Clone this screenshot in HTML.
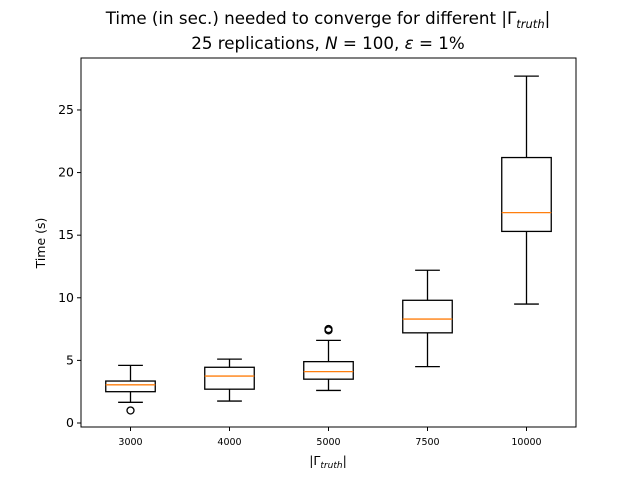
<!DOCTYPE html>
<html><head><meta charset="utf-8"><style>
body{margin:0;background:#fff;}
svg text{font-family:"DejaVu Sans","Liberation Sans",sans-serif;}
</style></head><body>
<svg id="chart" width="640" height="480" xmlns="http://www.w3.org/2000/svg">
<text x="328" y="24" font-size="16.7" text-anchor="middle">Time (in sec.) needed to converge for different |Γ<tspan font-style="italic" font-size="11.5" dy="4">truth</tspan><tspan dy="-4">|</tspan></text>
<text x="328" y="49" font-size="16.7" text-anchor="middle">25 replications, <tspan font-style="italic">N</tspan> = 100, <tspan font-style="italic">ε</tspan> = 1%</text>
<text transform="translate(45,243) rotate(-90)" font-size="12.5" text-anchor="middle">Time (s)</text>
<text x="328" y="465" font-size="12.5" text-anchor="middle">|Γ<tspan font-style="italic" font-size="9" dy="3">truth</tspan><tspan dy="-3">|</tspan></text>
<g id="plot"></g>
<rect x="81" y="58" width="495" height="369" fill="none" stroke="#000" stroke-width="1"/>
</svg>
<script>
const categories=["3000","4000","5000","7500","10000"];
const whiskerLow=[1.65,1.75,2.6,4.5,9.5];
const q1=[2.5,2.7,3.5,7.2,15.3];
const medians=[3.05,3.75,4.1,8.3,16.8];
const q3=[3.35,4.45,4.9,9.8,21.2];
const whiskerHigh=[4.6,5.1,6.6,12.2,27.7];
const outliers=[[1.0],[],[7.4,7.5],[],[]];
const yTicks=[0,5,10,15,20,25];
const NS="http://www.w3.org/2000/svg";
const L=81,R=576,T=58,B=427,yMin=-0.32,yMax=29.15;
const y=v=>B-(v-yMin)/(yMax-yMin)*(B-T);
const step=(R-L)/categories.length;
const x=i=>L+step*(i+0.5);
const g=document.getElementById('plot');
function mk(tag,a){const e=document.createElementNS(NS,tag);for(const k in a)e.setAttribute(k,a[k]);g.appendChild(e);return e;}
yTicks.forEach(t=>{
  const l=mk('line',{x1:L-4,x2:L,y1:y(t),y2:y(t),stroke:'#000'});
  
  
  const tx=mk('text',{x:L-7,y:y(t)+4,'font-size':12.5,'text-anchor':'end'});
  tx.textContent=t;
  
  
});
const bw=step*0.5;
categories.forEach((c,i)=>{
  const cx=x(i);
  const tk=mk('line',{x1:cx,x2:cx,y1:B,y2:B+4,stroke:'#000'});
  
  
  const tl=mk('text',{x:cx,y:B+18,'font-size':9.5,'text-anchor':'middle'});
  tl.textContent=c;
  
  
  const parts=[
    ['line',{x1:cx,x2:cx,y1:y(whiskerLow[i]),y2:y(q1[i]),stroke:'#000','stroke-width':1.3},'lower-whisker'],
    ['line',{x1:cx,x2:cx,y1:y(q3[i]),y2:y(whiskerHigh[i]),stroke:'#000','stroke-width':1.3},'upper-whisker'],
    ['line',{x1:cx-bw/4,x2:cx+bw/4,y1:y(whiskerLow[i]),y2:y(whiskerLow[i]),stroke:'#000','stroke-width':1.3},'lower-cap'],
    ['line',{x1:cx-bw/4,x2:cx+bw/4,y1:y(whiskerHigh[i]),y2:y(whiskerHigh[i]),stroke:'#000','stroke-width':1.3},'upper-cap'],
    ['rect',{x:cx-bw/2,y:y(q3[i]),width:bw,height:y(q1[i])-y(q3[i]),fill:'none',stroke:'#000','stroke-width':1.3},'box-'+c],
    ['line',{x1:cx-bw/2,x2:cx+bw/2,y1:y(medians[i]),y2:y(medians[i]),stroke:'#ff7f0e','stroke-width':1.3},'median-'+c]
  ];
  parts.forEach(p=>{const e=mk(p[0],p[1]);
    
    });
  outliers[i].forEach(o=>{
    const e=mk('circle',{cx:cx,cy:y(o),r:3.5,fill:'none',stroke:'#000','stroke-width':1.3});
    
    
  });
});
</script>
</body></html>
